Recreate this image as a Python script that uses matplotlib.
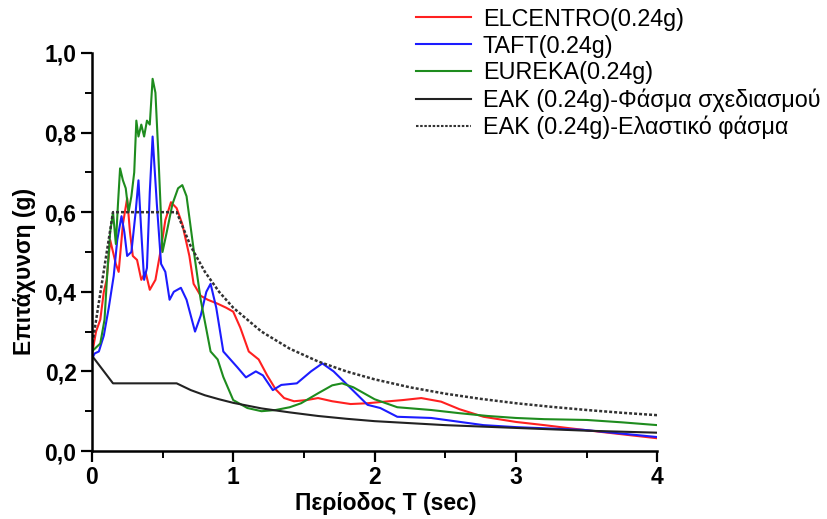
import matplotlib.pyplot as plt
from matplotlib.ticker import MultipleLocator, FuncFormatter

# ELCENTRO (0.24g)
t_elc = [0, 0.03, 0.06, 0.085, 0.105, 0.13, 0.15, 0.17, 0.19, 0.22, 0.25, 0.27, 0.29,
         0.32, 0.35, 0.38, 0.41, 0.45, 0.49, 0.52, 0.56, 0.6, 0.64, 0.69, 0.72, 0.77,
         0.82, 0.89, 0.95, 1.0, 1.05, 1.11, 1.18, 1.24, 1.3, 1.36, 1.43, 1.52, 1.6,
         1.7, 1.83, 1.95, 2.07, 2.2, 2.33, 2.47, 2.6, 2.77, 3.0, 3.2, 3.36, 3.6, 3.8, 4.0]
sa_elc = [0.24, 0.30, 0.33, 0.40, 0.43, 0.53, 0.50, 0.47, 0.45, 0.57, 0.635, 0.55, 0.49,
          0.48, 0.43, 0.45, 0.405, 0.43, 0.51, 0.58, 0.625, 0.61, 0.57, 0.49, 0.42, 0.39,
          0.38, 0.37, 0.36, 0.35, 0.31, 0.25, 0.23, 0.19, 0.155, 0.133, 0.125, 0.128, 0.133,
          0.125, 0.118, 0.12, 0.124, 0.128, 0.133, 0.124, 0.105, 0.086, 0.073, 0.065, 0.058,
          0.048, 0.04, 0.032]

# TAFT (0.24g)
t_taft = [0, 0.02, 0.05, 0.085, 0.12, 0.155, 0.18, 0.21, 0.23, 0.25, 0.28, 0.31, 0.33,
          0.35, 0.37, 0.39, 0.41, 0.43, 0.46, 0.49, 0.52, 0.55, 0.58, 0.63, 0.67, 0.73,
          0.77, 0.81, 0.84, 0.88, 0.93, 0.98, 1.03, 1.09, 1.16, 1.21, 1.28, 1.34, 1.45,
          1.55, 1.63, 1.71, 1.83, 1.95, 2.04, 2.16, 2.4, 2.77, 3.0, 3.48, 4.0]
sa_taft = [0.23, 0.245, 0.25, 0.29, 0.36, 0.44, 0.53, 0.59, 0.55, 0.49, 0.50, 0.60, 0.68,
           0.55, 0.43, 0.46, 0.65, 0.79, 0.62, 0.47, 0.45, 0.38, 0.40, 0.41, 0.38, 0.30,
           0.34, 0.40, 0.42, 0.36, 0.25, 0.23, 0.21, 0.185, 0.20, 0.19, 0.153, 0.166, 0.17,
           0.20, 0.22, 0.20, 0.158, 0.116, 0.108, 0.086, 0.083, 0.065, 0.06, 0.053, 0.035]

# EUREKA (0.24g)
t_eur = [0, 0.03, 0.06, 0.09, 0.11, 0.13, 0.15, 0.17, 0.185, 0.2, 0.22, 0.24, 0.26, 0.28,
         0.3, 0.315, 0.33, 0.35, 0.37, 0.39, 0.41, 0.43, 0.45, 0.47, 0.5, 0.53, 0.57, 0.61,
         0.64, 0.67, 0.7, 0.73, 0.77, 0.84, 0.89, 0.93, 1.0, 1.1, 1.2, 1.3, 1.4, 1.48, 1.6,
         1.7, 1.77, 1.85, 2.0, 2.16, 2.4, 2.6, 2.8, 3.0, 3.2, 3.5, 3.75, 4.0]
sa_eur = [0.25, 0.26, 0.27, 0.33, 0.45, 0.55, 0.60, 0.52, 0.62, 0.71, 0.68, 0.66, 0.60, 0.64,
          0.70, 0.83, 0.79, 0.82, 0.79, 0.83, 0.82, 0.935, 0.90, 0.75, 0.50, 0.55, 0.62, 0.66,
          0.668, 0.64, 0.56, 0.48, 0.38, 0.25, 0.23, 0.186, 0.128, 0.108, 0.10, 0.103, 0.11,
          0.12, 0.145, 0.165, 0.17, 0.16, 0.13, 0.11, 0.103, 0.095, 0.088, 0.083, 0.08, 0.078,
          0.072, 0.065]

# EAK design spectrum
t_design = [0, 0.15, 0.6, 0.7, 0.8, 0.9, 1.0, 1.2, 1.4, 1.6, 1.8, 2.0, 2.5, 3.0, 3.5, 4.0]
sa_design = [0.24, 0.17, 0.17, 0.153, 0.14, 0.13, 0.121, 0.107, 0.097, 0.088, 0.081, 0.075,
             0.065, 0.058, 0.051, 0.046]

# EAK elastic spectrum
t_elastic = [0, 0.15, 0.6, 0.7, 0.8, 0.9, 1.0, 1.2, 1.4, 1.6, 1.8, 2.0, 2.25, 2.5, 2.75,
             3.0, 3.25, 3.5, 3.75, 4.0]
sa_elastic = [0.26, 0.6, 0.6, 0.514, 0.45, 0.4, 0.36, 0.3, 0.257, 0.225, 0.2, 0.18, 0.16,
              0.144, 0.131, 0.12, 0.111, 0.103, 0.096, 0.09]

plt.rcParams['font.family'] = ['Liberation Sans', 'DejaVu Sans']

fig = plt.figure(figsize=(8.27, 5.19), dpi=100)
ax = fig.add_axes([0.111, 0.131, 0.684, 0.767])

ax.plot(t_elc, sa_elc, color='#ff2020', lw=1.5, label='ELCENTRO(0.24g)')
ax.plot(t_taft, sa_taft, color='#1c1cff', lw=1.5, label='TAFT(0.24g)')
ax.plot(t_eur, sa_eur, color='#1e8c1e', lw=1.5, label='EUREKA(0.24g)')
ax.plot(t_design, sa_design, color='#222222', lw=1.5, label='ΕΑΚ (0.24g)-Φάσμα σχεδιασμού')
ax.plot(t_elastic, sa_elastic, color='#333333', lw=1.8, ls=(0, (1.2, 0.8)),
        label='ΕΑΚ (0.24g)-Ελαστικό φάσμα')

ax.set_xlim(0, 4)
ax.set_ylim(0, 1.0)
ax.xaxis.set_major_locator(MultipleLocator(1))
ax.xaxis.set_minor_locator(MultipleLocator(0.5))
ax.yaxis.set_major_locator(MultipleLocator(0.2))
ax.yaxis.set_minor_locator(MultipleLocator(0.1))
ax.yaxis.set_major_formatter(FuncFormatter(lambda v, p: f'{v:.1f}'.replace('.', ',')))

for s in ['top', 'right']:
    ax.spines[s].set_visible(False)
for s in ['left', 'bottom']:
    ax.spines[s].set_linewidth(1.8)
ax.tick_params(which='major', direction='out', length=8, width=1.6, pad=3,
               labelsize=16.5)
ax.tick_params(which='minor', direction='out', length=5, width=1.4)

for lab in ax.get_xticklabels() + ax.get_yticklabels():
    lab.set_fontweight('bold')

ax.set_xlabel('Περίοδος T (sec)', fontsize=16.5, fontweight='bold')
ax.set_ylabel('Επιτάχυνση (g)', fontsize=16.5, fontweight='bold')
ax.xaxis.set_label_coords(0.52, -0.102)
ax.yaxis.set_label_coords(-0.098, 0.45)

leg = ax.legend(loc='upper left', bbox_to_anchor=(0.574, 1.114), frameon=False, fontsize=16.8,
                handlelength=2.35, handletextpad=0.5, labelspacing=0.17, borderpad=0,
                borderaxespad=0)
for line in leg.get_lines():
    line.set_linewidth(1.5)

fig.savefig('out.png', dpi=100)
